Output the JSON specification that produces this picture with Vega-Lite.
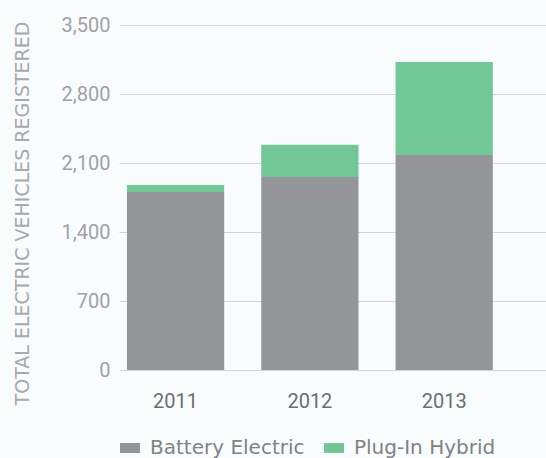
{
  "$schema": "https://vega.github.io/schema/vega-lite/v6.json",
  "autosize": "none",
  "width": 427,
  "height": 345,
  "padding": {"left": 119, "top": 25, "right": 0, "bottom": 88},
  "background": "#f8fcfd",
  "config": {
    "view": {"stroke": null},
    "font": "Roboto"
  },
  "data": {
    "values": [
      {"year": "2011", "type": "Battery Electric", "count": 1807},
      {"year": "2011", "type": "Plug-In Hybrid", "count": 71},
      {"year": "2012", "type": "Battery Electric", "count": 1959},
      {"year": "2012", "type": "Plug-In Hybrid", "count": 325},
      {"year": "2013", "type": "Battery Electric", "count": 2182},
      {"year": "2013", "type": "Plug-In Hybrid", "count": 943}
    ]
  },
  "mark": {"type": "bar"},
  "encoding": {
    "x": {
      "field": "year",
      "type": "nominal",
      "scale": {"paddingInner": 0.276, "paddingOuter": 0.2276, "align": 0.13},
      "axis": {
        "title": null,
        "labelAngle": 0,
        "domain": false,
        "ticks": false,
        "labelFont": "Roboto",
        "labelFontSize": 20,
        "labelColor": "#6d6e71",
        "labelPadding": 21
      }
    },
    "y": {
      "field": "count",
      "type": "quantitative",
      "stack": "zero",
      "scale": {"domain": [0, 3500], "nice": false},
      "axis": {
        "title": "TOTAL ELECTRIC VEHICLES REGISTERED",
        "titleFont": "DejaVu Sans",
        "titleFontSize": 19,
        "titleFontWeight": "normal",
        "titleColor": "#a7a9ac",
        "titleAngle": -90,
        "titleBaseline": "alphabetic",
        "titleAlign": "center",
        "titleX": -91,
        "titleY": 188,
        "values": [0, 700, 1400, 2100, 2800, 3500],
        "format": ",d",
        "domain": false,
        "ticks": false,
        "labelFont": "Roboto",
        "labelFontSize": 20,
        "labelColor": "#a0a2a5",
        "labelPadding": 9,
        "gridColor": "#d1d3d4",
        "gridWidth": 1
      }
    },
    "order": {"field": "type", "sort": "ascending"},
    "color": {
      "field": "type",
      "type": "nominal",
      "scale": {
        "domain": ["Battery Electric", "Plug-In Hybrid"],
        "range": ["#939598", "#71c795"]
      },
      "legend": {
        "title": null,
        "orient": "none",
        "direction": "horizontal",
        "legendX": 1,
        "legendY": 413,
        "symbolType": "M-1,-0.5H1V0.5H-1Z",
        "symbolSize": 400,
        "symbolStrokeWidth": 0,
        "labelFont": "DejaVu Sans",
        "labelFontSize": 20,
        "labelColor": "#808285",
        "labelOffset": 10,
        "columnPadding": 19
      }
    }
  }
}
